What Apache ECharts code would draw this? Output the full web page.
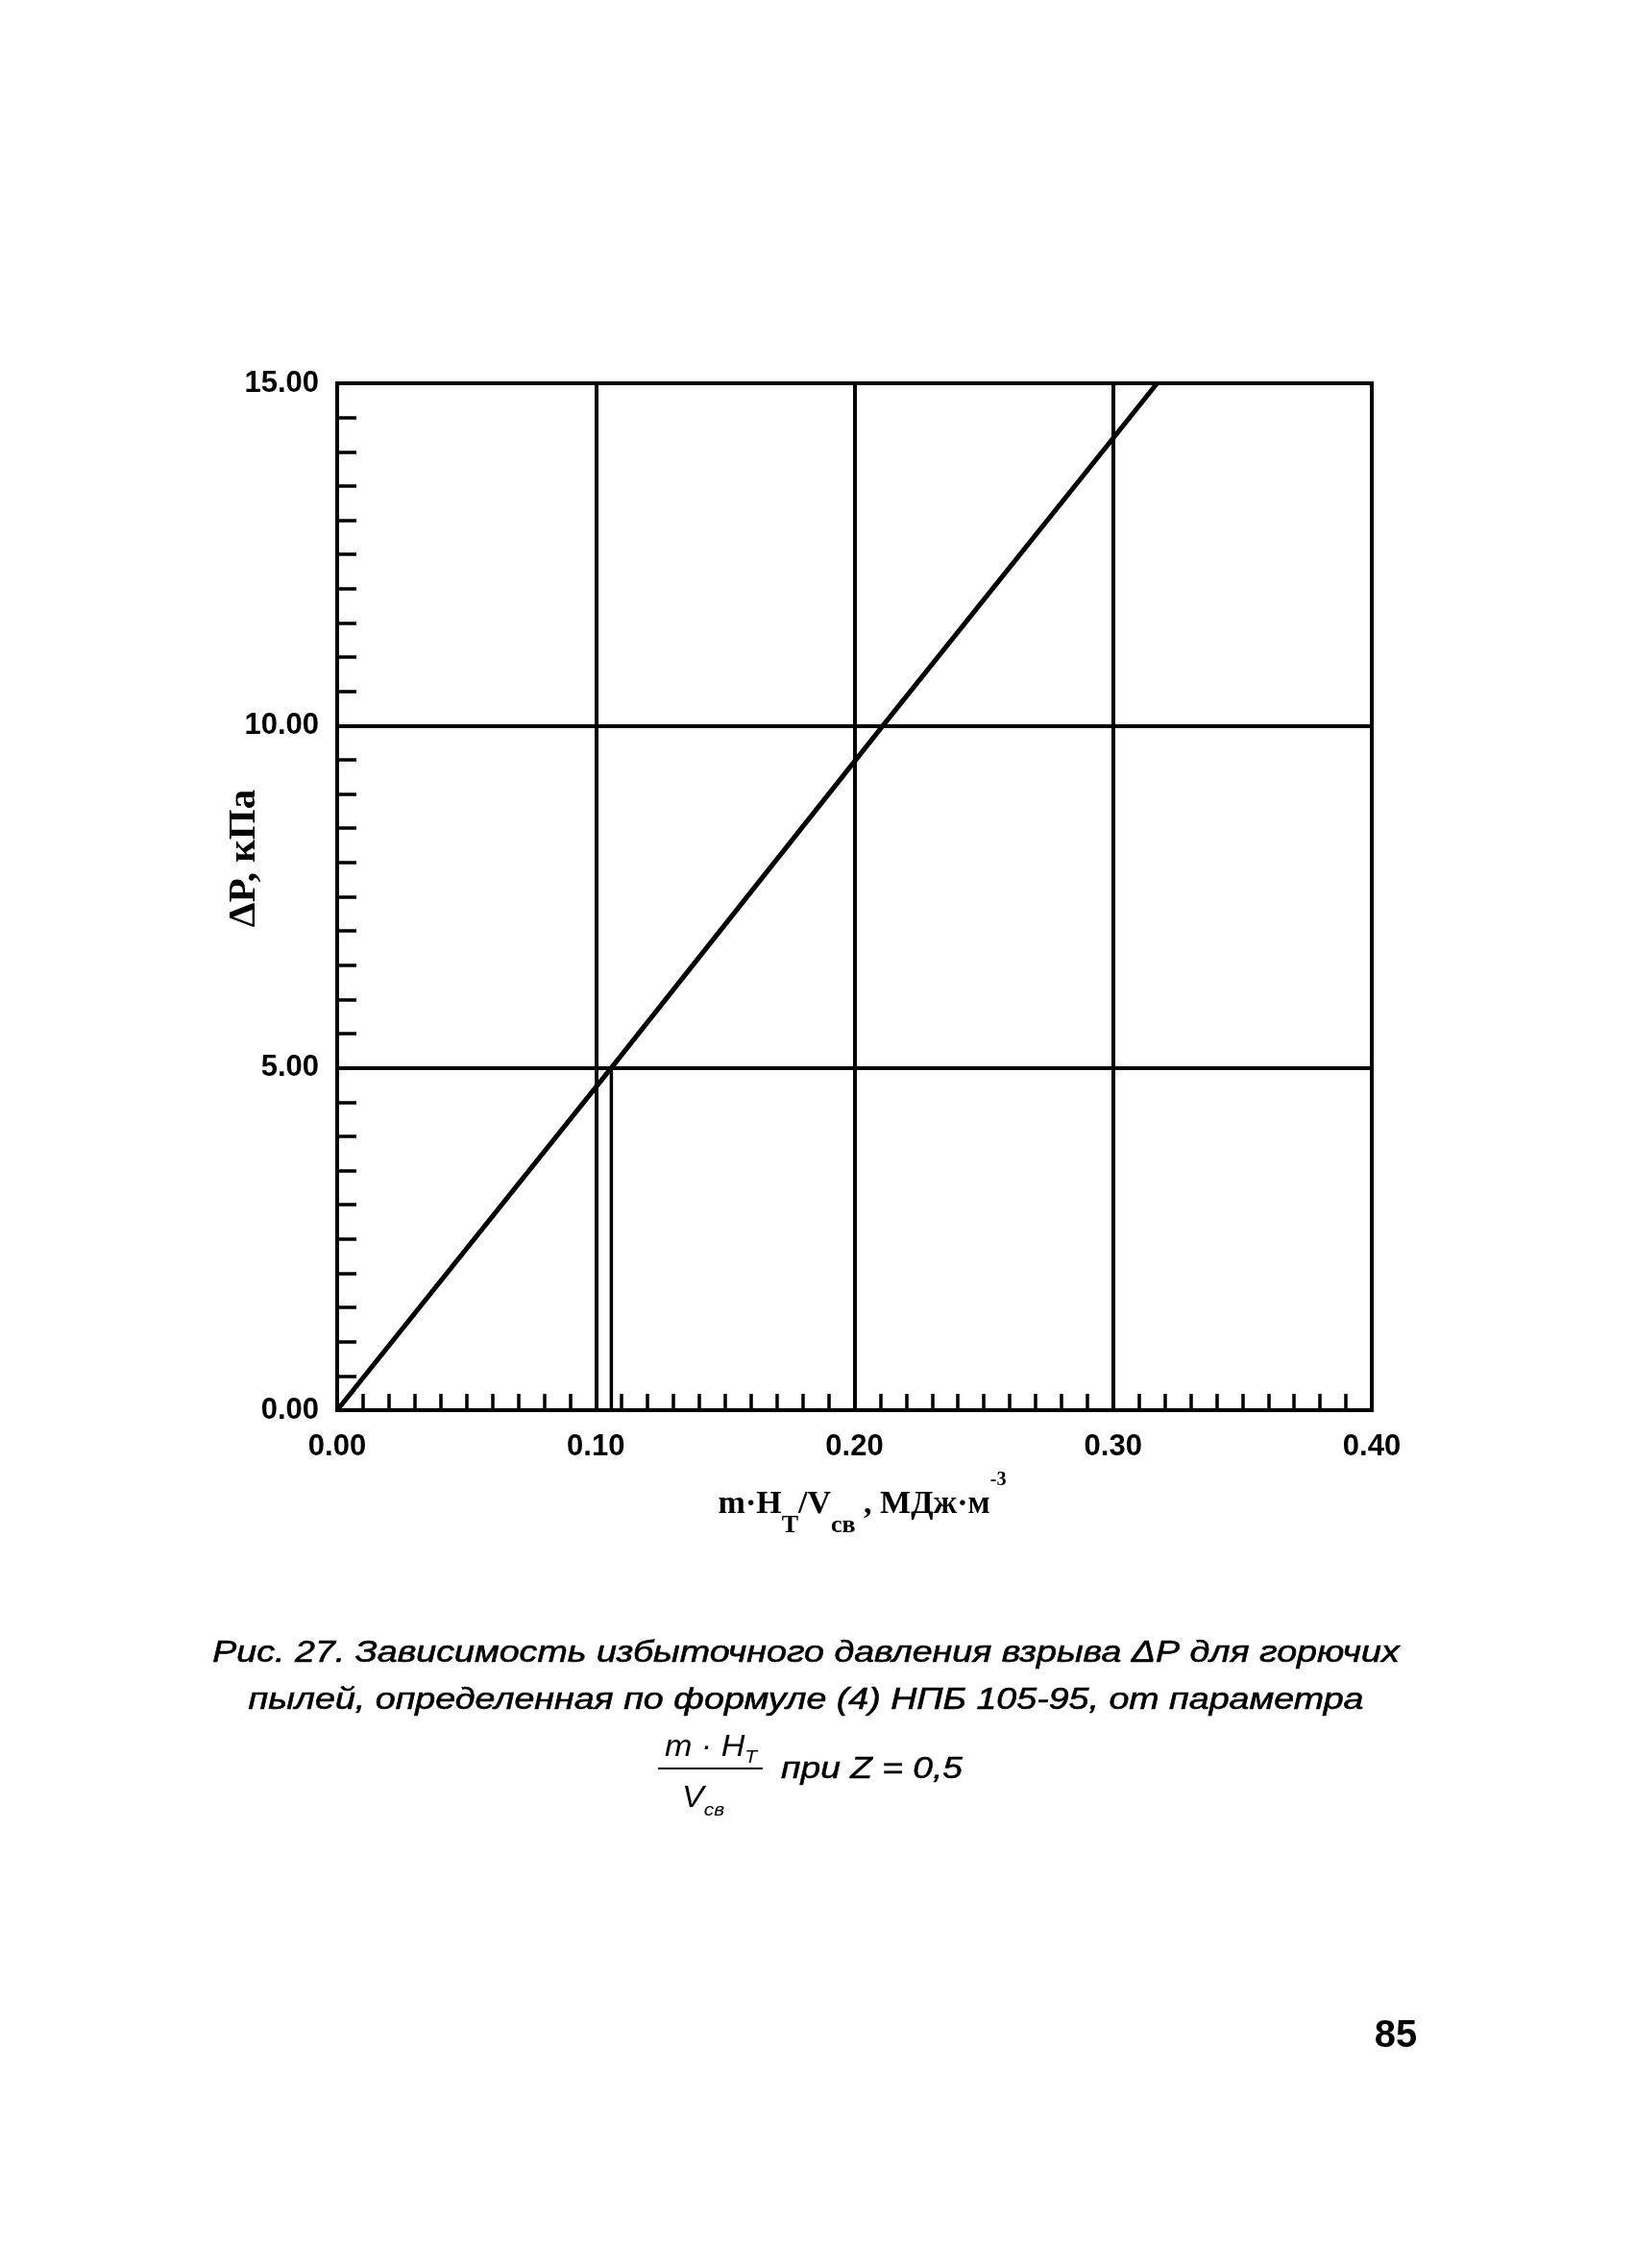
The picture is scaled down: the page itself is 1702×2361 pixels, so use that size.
<!DOCTYPE html>
<html><head><meta charset="utf-8">
<script src="https://cdn.jsdelivr.net/npm/echarts@6/dist/echarts.min.js"></script>
<style>html,body{margin:0;padding:0;background:#fff}#c{width:1702px;height:2361px}</style>
</head><body><div id="c"></div>
<script>
// axis ranges / ticks
const xMin = 0, xMax = 0.4, xStep = 0.1;
const yMin = 0, yMax = 15, yStep = 5;
// curve ΔP vs m·H/V
const curveX = [0, 0.106, 0.211, 0.317];
const curveY = [0, 5, 10, 15];
// drop line from the curve at ΔP = 5 to the x axis
const dropX = [0.106, 0.106];
const dropY = [0, 5];
// texts
const yTitle = 'ΔP, кПа';
const captionLine1 = 'Рис. 27. Зависимость избыточного давления взрыва ΔP для горючих';
const captionLine2 = 'пылей, определенная по формуле (4) НПБ 105-95, от параметра';
const pageNumber = '85';

const chart = echarts.init(document.getElementById('c'), null, {renderer: 'canvas'});
const serif = '"Liberation Serif", "Times New Roman", serif';
const sans = '"Liberation Sans", Arial, sans-serif';

const option = {
  backgroundColor: '#fff',
  animation: false,
  grid: {left: 351, top: 399, width: 1077, height: 1069, show: true,
    borderColor: '#000', borderWidth: 4, backgroundColor: 'transparent', outerBoundsMode: 'none', containLabel: false},
  xAxis: {
    type: 'value', min: xMin, max: xMax, interval: xStep,
    axisLine: {show: true, lineStyle: {color: '#000', width: 4}},
    axisTick: {show: true, inside: true, length: 17, lineStyle: {color: '#000', width: 3.5}},
    minorTick: {show: true, splitNumber: 10, length: 17, lineStyle: {color: '#000', width: 3.5}},
    splitLine: {show: true, lineStyle: {color: '#000', width: 4}},
    axisLabel: {margin: 23, color: '#000', fontFamily: sans, fontSize: 31, fontWeight: 'bold',
      formatter: v => v.toFixed(2)},
    name: '{r|m·H}{s|Т}{r|/V}{s|св}{r| , МДж·м}{p|-3}',
    nameLocation: 'middle', nameGap: 63, nameMoveOverlap: false,
    nameTextStyle: {
      padding: [0, 0, 0, 16],
      rich: {
        r: {fontFamily: serif, fontWeight: 'bold', fontSize: 34, lineHeight: 70, color: '#000', verticalAlign: 'middle'},
        s: {fontFamily: serif, fontWeight: 'bold', fontSize: 26, lineHeight: 26, color: '#000', verticalAlign: 'bottom'},
        p: {fontFamily: serif, fontWeight: 'bold', fontSize: 20, lineHeight: 44, color: '#000', verticalAlign: 'top'}
      }
    }
  },
  yAxis: {
    type: 'value', min: yMin, max: yMax, interval: yStep,
    axisLine: {show: true, lineStyle: {color: '#000', width: 4}},
    axisTick: {show: true, inside: true, length: 20, lineStyle: {color: '#000', width: 3.5}},
    minorTick: {show: true, splitNumber: 10, length: 20, lineStyle: {color: '#000', width: 3.5}},
    splitLine: {show: true, lineStyle: {color: '#000', width: 4}},
    axisLabel: {margin: 19, color: '#000', fontFamily: sans, fontSize: 31, fontWeight: 'bold',
      formatter: v => v.toFixed(2)},
    name: yTitle, nameLocation: 'middle', nameRotate: 90, nameGap: 76, nameMoveOverlap: false,
    nameTextStyle: {fontFamily: serif, fontWeight: 'bold', fontSize: 41, color: '#000', padding: [0, 0, 0, 80]}
  },
  series: [
    {type: 'line', data: curveX.map((x, i) => [x, curveY[i]]), showSymbol: false, symbol: 'none',
      lineStyle: {color: '#000', width: 5}, z: 5},
    {type: 'line', data: dropX.map((x, i) => [x, dropY[i]]), showSymbol: false, symbol: 'none',
      lineStyle: {color: '#000', width: 3.5}, z: 5}
  ],
  graphic: [
    {type: 'text', x: 839, y: 1721, scaleX: 1.175, style: {text: captionLine1, align: 'center', verticalAlign: 'middle',
      font: 'italic 32px ' + sans, fill: '#000', stroke: '#000', lineWidth: 0.6}},
    {type: 'text', x: 839, y: 1770, scaleX: 1.175, style: {text: captionLine2, align: 'center', verticalAlign: 'middle',
      font: 'italic 32px ' + sans, fill: '#000', stroke: '#000', lineWidth: 0.6}},
    {type: 'text', x: 740, y: 1819, scaleX: 1.1, style: {text: '{i|m · H}{s|T}', align: 'center', verticalAlign: 'middle',
      rich: {i: {font: 'italic 31px ' + sans, fill: '#000', lineHeight: 40, verticalAlign: 'middle'},
             s: {font: 'italic 19px ' + sans, fill: '#000', lineHeight: 19, verticalAlign: 'bottom'}}}},
    {type: 'line', shape: {x1: 685, y1: 1841, x2: 794, y2: 1841}, style: {stroke: '#000', lineWidth: 2}},
    {type: 'text', x: 732, y: 1872, scaleX: 1.1, style: {text: '{i|V}{s|св}', align: 'center', verticalAlign: 'middle',
      rich: {i: {font: 'italic 31px ' + sans, fill: '#000', lineHeight: 44, verticalAlign: 'middle'},
             s: {font: 'italic 19px ' + sans, fill: '#000', lineHeight: 19, verticalAlign: 'bottom'}}}},
    {type: 'text', x: 813, y: 1842, scaleX: 1.2, style: {text: 'при Z = 0,5', align: 'left', verticalAlign: 'middle',
      font: 'italic 31px ' + sans, fill: '#000', stroke: '#000', lineWidth: 0.5}},
    {type: 'text', x: 1453, y: 2120, style: {text: pageNumber, align: 'center', verticalAlign: 'middle',
      font: 'bold 40px ' + sans, fill: '#000'}}
  ]
};
chart.setOption(option);
</script>
</body></html>
